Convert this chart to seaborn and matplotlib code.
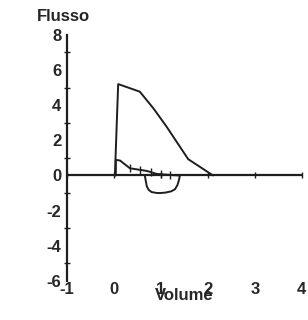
import numpy as np
import pandas as pd
import matplotlib
matplotlib.use("Agg")
import matplotlib.pyplot as plt
import seaborn as sns
from matplotlib.ticker import MultipleLocator

# expiratory curve (big)
exp_vol = [0.02, 0.06, 0.09, 0.55, 0.84, 1.12, 1.58, 2.11]
exp_flow = [0.0, 3.0, 5.2, 4.77, 3.82, 2.78, 0.93, 0.0]

# small loop (tidal)
small_vol = [0.04, 0.04, 0.13, 0.34, 0.70, 0.91, 1.26, 1.40]
small_flow = [0.0, 0.89, 0.85, 0.41, 0.26, 0.09, 0.02, 0.0]

# inspiratory part
insp_vol = [0.66, 0.68, 0.70, 0.74, 0.80, 0.90, 0.98, 1.10, 1.22, 1.30, 1.35, 1.38, 1.40]
insp_flow = [-0.05, -0.35, -0.62, -0.82, -0.94, -0.99, -1.0, -0.97, -0.9, -0.78, -0.55, -0.3, -0.05]

# tick-like marks along the small curve
mark_vol = [0.34, 0.55, 0.78, 1.0, 1.2]
mark_flow = [0.41, 0.3, 0.18, 0.06, 0.03]

x_ticks = [-1, 0, 1, 2, 3, 4]
y_ticks = [-6, -4, -2, 0, 2, 4, 6, 8]

sns.set_style("white")
plt.rcParams['font.family'] = ['Liberation Sans', 'DejaVu Sans']
plt.rcParams['font.weight'] = 'bold'

fig = plt.figure(figsize=(3.08, 3.2), dpi=100)
ax = fig.add_axes([0.2175, 0.122, 0.7625, 0.769])

col = '#1e1e1e'
sns.lineplot(x=exp_vol, y=exp_flow, sort=False, estimator=None, color=col, lw=1.4, ax=ax)
sns.lineplot(x=small_vol, y=small_flow, sort=False, estimator=None, color=col, lw=1.4, ax=ax)
sns.lineplot(x=insp_vol, y=insp_flow, sort=False, estimator=None, color=col, lw=1.4, ax=ax)
ax.scatter(mark_vol, mark_flow, marker='|', s=30, color=col, linewidths=1.0)

ax.set_xlim(-1, 4)
ax.set_ylim(-6, 8)
ax.set_xticks(x_ticks)
ax.set_yticks(y_ticks)
ax.set_yticklabels([str(v) for v in y_ticks], fontsize=12, fontweight='bold')
ax.set_xticklabels([str(v) for v in x_ticks], fontsize=12, fontweight='bold')
ax.yaxis.set_minor_locator(MultipleLocator(1))

for s in ['top', 'right', 'bottom']:
    ax.spines[s].set_visible(False)
ax.spines['left'].set_color(col)
ax.spines['left'].set_linewidth(1.6)

ax.tick_params(axis='y', which='major', direction='inout', length=6, width=1.2, color=col, pad=1)
ax.tick_params(axis='y', which='minor', direction='inout', length=4, width=1.0, color=col, left=True)
ax.tick_params(axis='x', which='major', length=0, pad=1)

# x axis line drawn at zero flow with its own ticks
ax.axhline(0, color=col, lw=1.6, zorder=1)
sec = ax.secondary_xaxis(6 / 14)
sec.spines['bottom'].set_visible(False)
sec.set_xticks(x_ticks)
sec.tick_params(axis='x', direction='inout', length=5, width=1.0, color=col, labelbottom=False)

ax.set_xlabel("Volume", fontsize=12, fontweight='bold', labelpad=-7)
fig.text(0.205, 0.947, "Flusso", fontsize=12, fontweight='bold', ha='center', va='center')

fig.savefig("out.png", dpi=100)
